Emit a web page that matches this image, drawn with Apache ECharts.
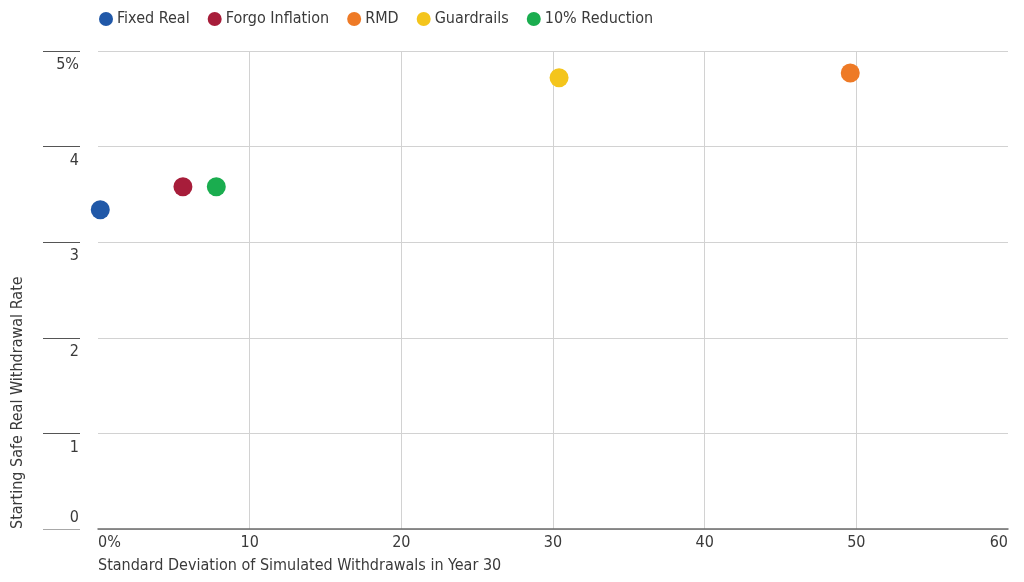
<!DOCTYPE html>
<html>
<head>
<meta charset="utf-8">
<script src="https://cdn.jsdelivr.net/npm/echarts@6/dist/echarts.min.js"></script>
<style>
  html, body { margin: 0; padding: 0; background: #ffffff; }
  #chart { width: 1024px; height: 582px; }
</style>
</head>
<body>
<div id="chart"></div>
<script>
// Withdrawal strategies: variability of year-30 withdrawals vs. starting safe rate
const strategies = ['Fixed Real', 'Forgo Inflation', 'RMD', 'Guardrails', '10% Reduction'];
const stdDevYear30 = [0.15, 5.6, 49.6, 30.4, 7.8];       // %, x axis
const startingSafeRate = [3.34, 3.58, 4.77, 4.72, 3.58]; // %, y axis
const strategyColors = ['#2058a8', '#a71d3a', '#ee7a26', '#f4c51c', '#1aad4f'];
const xTicks = [0, 10, 20, 30, 40, 50, 60];
const yTicks = [0, 1, 2, 3, 4, 5];

const FONT = "'Liberation Sans Narrow', 'DejaVu Sans Condensed', 'Roboto', sans-serif";
const TEXT = '#3a3a3a';

const chart = echarts.init(document.getElementById('chart'), null, { renderer: 'canvas' });

const series = strategies.map((name, i) => ({
  name: name,
  type: 'scatter',
  symbol: 'circle',
  symbolSize: 19,
  xAxisIndex: 0,
  yAxisIndex: 0,
  itemStyle: { color: strategyColors[i], opacity: 1 },
  emphasis: { disabled: true },
  data: [[stdDevYear30[i], startingSafeRate[i]]]
}));

chart.setOption({
  animation: false,
  backgroundColor: '#ffffff',
  textStyle: { fontFamily: FONT },
  legend: {
    left: 94,
    top: 6,
    icon: 'circle',
    itemWidth: 14,
    itemHeight: 14,
    itemGap: 18,
    textStyle: { fontFamily: FONT, fontSize: 16, color: TEXT, padding: [0, 0, 0, -1] },
    data: strategies
  },
  grid: [
    // plot area
    { left: 98, right: 16, top: 51, bottom: 53, containLabel: false },
    // strip at the left carrying the y tick rules and their labels
    { left: 43, width: 37, top: 51, bottom: 53, containLabel: false }
  ],
  xAxis: [
    {
      gridIndex: 0,
      type: 'value',
      min: xTicks[0],
      max: xTicks[xTicks.length - 1],
      interval: 10,
      name: 'Standard Deviation of Simulated Withdrawals in Year 30',
      nameLocation: 'start',
      nameGap: 0,
      nameTextStyle: {
        fontFamily: FONT, fontSize: 16, color: TEXT,
        align: 'left', verticalAlign: 'top', padding: [29, 0, 0, 0]
      },
      axisLine: { show: true, lineStyle: { color: '#6b6b6b', width: 1.5 } },
      axisTick: { show: false },
      splitLine: {
        show: true, showMinLine: false, showMaxLine: false,
        lineStyle: { color: '#d2d2d2', width: 1 }
      },
      axisLabel: {
        fontFamily: FONT, fontSize: 16, color: TEXT, margin: 6,
        showMinLabel: true, showMaxLabel: true,
        alignMinLabel: 'left', alignMaxLabel: 'right',
        formatter: v => (v === 0 ? '0%' : String(v))
      }
    },
    {
      gridIndex: 1,
      type: 'value',
      min: 0,
      max: 1,
      show: false
    }
  ],
  yAxis: [
    {
      gridIndex: 0,
      type: 'value',
      min: yTicks[0],
      max: yTicks[yTicks.length - 1],
      interval: 1,
      name: 'Starting Safe Real Withdrawal Rate',
      nameLocation: 'start',
      nameGap: 0,
      nameRotate: 90,
      nameTextStyle: {
        fontFamily: FONT, fontSize: 16, color: TEXT,
        align: 'left', verticalAlign: 'bottom', padding: [0, 0, 72, 0]
      },
      axisLine: { show: false },
      axisTick: { show: false },
      axisLabel: { show: false },
      splitLine: { show: true, lineStyle: { color: '#d2d2d2', width: 1 } }
    },
    {
      gridIndex: 1,
      type: 'value',
      position: 'right',
      min: yTicks[0],
      max: yTicks[yTicks.length - 1],
      interval: 1,
      axisLine: { show: false },
      axisTick: { show: false },
      splitLine: {
        show: true,
        lineStyle: { color: ['#a8a8a8', '#555555', '#555555', '#555555', '#555555', '#555555'], width: 1.2 }
      },
      axisLabel: {
        inside: true,
        fontFamily: FONT, fontSize: 16, color: TEXT, margin: 1,
        formatter: v => (v === 0 ? '{lo|0}' : '{hi|' + (v === 5 ? '5%' : String(v)) + '}'),
        rich: {
          hi: { fontFamily: FONT, fontSize: 16, color: TEXT, padding: [28, 0, 0, 0] },
          lo: { fontFamily: FONT, fontSize: 16, color: TEXT, padding: [0, 0, 22, 0] }
        }
      }
    }
  ],
  series: series
});
</script>
</body>
</html>
